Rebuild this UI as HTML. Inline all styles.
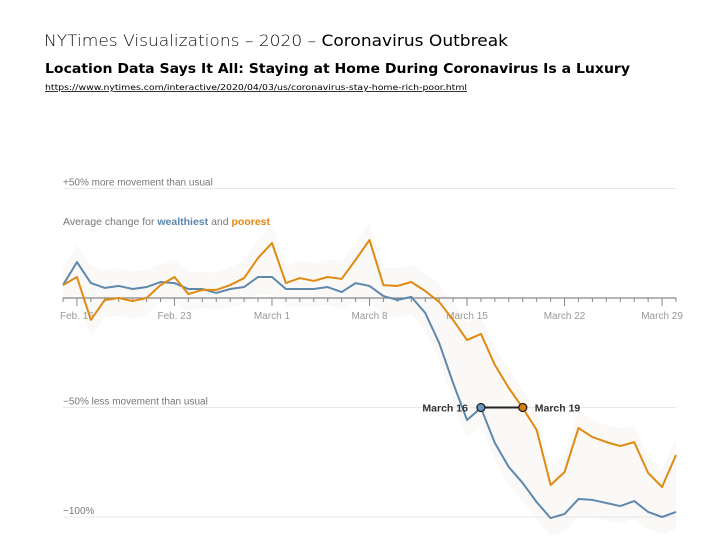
<!DOCTYPE html>
<html><head><meta charset="utf-8"><style>
html,body{margin:0;padding:0;background:#fff;}
svg{display:block;}
</style></head><body>
<svg id="chart" width="720" height="540" viewBox="0 0 720 540" xmlns="http://www.w3.org/2000/svg">
<text x="44" y="46" font-family="DejaVu Sans, sans-serif" font-size="16" textLength="464" lengthAdjust="spacingAndGlyphs" fill="#000"><tspan font-weight="300" fill="#111">NYTimes Visualizations – 2020 – </tspan><tspan>Coronavirus Outbreak</tspan></text>
<text x="45" y="73" font-family="DejaVu Sans, sans-serif" font-size="13.5" font-weight="bold" textLength="585" lengthAdjust="spacingAndGlyphs" fill="#000">Location Data Says It All: Staying at Home During Coronavirus Is a Luxury</text>
<text x="45" y="90" font-family="DejaVu Sans, sans-serif" font-size="8" textLength="422" lengthAdjust="spacingAndGlyphs" fill="#000" text-decoration="underline">https://www.nytimes.com/interactive/2020/04/03/us/coronavirus-stay-home-rich-poor.html</text>
<g id="plot"></g>
</svg>
<script>
const dayLabels = ["Feb. 16","Feb. 23","March 1","March 8","March 15","March 22","March 29"];
const dayLabelIdx = [1,8,15,22,29,36,43];
const yTicks = [50,0,-50,-100];
const yTickLabels = ["+50% more movement than usual","","\u221250% less movement than usual","\u2212100%"];
const wealthiest = [5.9,16.4,6.8,4.6,5.5,4.1,5.0,7.3,6.8,4.1,4.1,2.3,4.1,5.0,9.6,9.6,4.1,4.1,4.1,5.0,2.7,6.8,5.5,0.9,-0.9,0.5,-6.8,-20.5,-38.8,-55.7,-50.2,-66.2,-77.2,-84.5,-93.2,-100.5,-98.6,-91.8,-92.2,-93.6,-95,-92.7,-97.7,-100,-97.7];
const poorest = [5.9,9.6,-10,-0.9,0,-1.4,0,5.9,9.6,1.8,3.7,3.7,5.9,9.1,18.3,25.1,6.8,9.1,7.8,9.6,8.7,17.4,26.5,5.9,5.5,7.3,3.2,-1.8,-10,-19.2,-16.4,-30.6,-41.1,-50.2,-60.3,-85.4,-79.5,-59.4,-63.5,-65.8,-67.6,-65.8,-79.9,-86.3,-71.7];
const markIdx = [30,33];
const markLabels = ["March 16","March 19"];

const NS="http://www.w3.org/2000/svg";
const plotG=document.getElementById('plot');
const x0=63,x1=676,y0=298,pxPer=2.19;
const xs=i=>x0+(x1-x0)*i/(wealthiest.length-1);
const ys=v=>y0-v*pxPer;
function mk(t,a){const e=document.createElementNS(NS,t);for(const k in a)e.setAttribute(k,a[k]);plotG.appendChild(e);return e;}

const band=mk('path',{fill:'#f5f3f0',opacity:'0.5'});


const upperEdge=poorest.map((v,i)=>[xs(i),ys(Math.max(v,wealthiest[i])+8)]);
const lowerEdge=wealthiest.map((v,i)=>[xs(i),ys(Math.min(v,poorest[i])-8)]).reverse();
band.setAttribute('d','M'+upperEdge.concat(lowerEdge).map(p=>p.join(',')).join('L')+'Z');

yTicks.forEach((t,k)=>{
  const y=ys(t);
  if(t!==0){
    const l=mk('line',{x1:x0,x2:x1,y1:y,y2:y,stroke:'#e8e8e8','stroke-width':1});
    
    
  }
  if(yTickLabels[k]){
    const tx=mk('text',{x:x0,y:y-3,'font-family':'Liberation Sans, sans-serif','font-size':10,fill:'#777'});
    tx.textContent=yTickLabels[k];
    
    
  }
});
const ax=mk('line',{x1:x0,x2:x1,y1:y0,y2:y0,stroke:'#888','stroke-width':1.2});


for(let i=0;i<wealthiest.length;i++){
  const big=dayLabelIdx.includes(i);
  const tk=mk('line',{x1:xs(i),x2:xs(i),y1:y0,y2:y0+(big?8:4),stroke:'#888','stroke-width':1});
  
  
}
dayLabelIdx.forEach((i,k)=>{
  const tx=mk('text',{x:xs(i),y:y0+21,'text-anchor':'middle','font-family':'Liberation Sans, sans-serif','font-size':10,fill:'#999'});
  tx.textContent=dayLabels[k];
  
  
});
const lg=mk('text',{x:x0,y:225,'font-family':'Liberation Sans, sans-serif','font-size':10.5,fill:'#777'});


lg.innerHTML='Average change for <tspan font-weight="bold" fill="#5a86ad">wealthiest</tspan> and <tspan font-weight="bold" fill="#e0860f">poorest</tspan>';

function drawLine(arr,col,name){
  const p=mk('polyline',{points:arr.map((v,i)=>xs(i)+','+ys(v)).join(' '),fill:'none',stroke:col,'stroke-width':2,'stroke-linejoin':'round'});
  
  
}
drawLine(wealthiest,'#5f88ad','wealthiest-line');
drawLine(poorest,'#e08a12','poorest-line');

const mxA=xs(markIdx[0]),mxB=xs(markIdx[1]),my=ys(-50);
const con=mk('line',{x1:mxA,x2:mxB,y1:my,y2:my,stroke:'#222','stroke-width':2});


const c1=mk('circle',{cx:mxA,cy:my,r:4,fill:'#6d94bb',stroke:'#222','stroke-width':1.3});


const c2=mk('circle',{cx:mxB,cy:my,r:4,fill:'#dc7d10',stroke:'#222','stroke-width':1.3});


const t1=mk('text',{x:mxA-13,y:my+4,'text-anchor':'end','font-family':'Liberation Sans, sans-serif','font-size':10.5,'font-weight':'bold',fill:'#333'});
t1.textContent=markLabels[0];


const t2=mk('text',{x:mxB+12,y:my+4,'font-family':'Liberation Sans, sans-serif','font-size':10.5,'font-weight':'bold',fill:'#333'});
t2.textContent=markLabels[1];


</script>
</body></html>
